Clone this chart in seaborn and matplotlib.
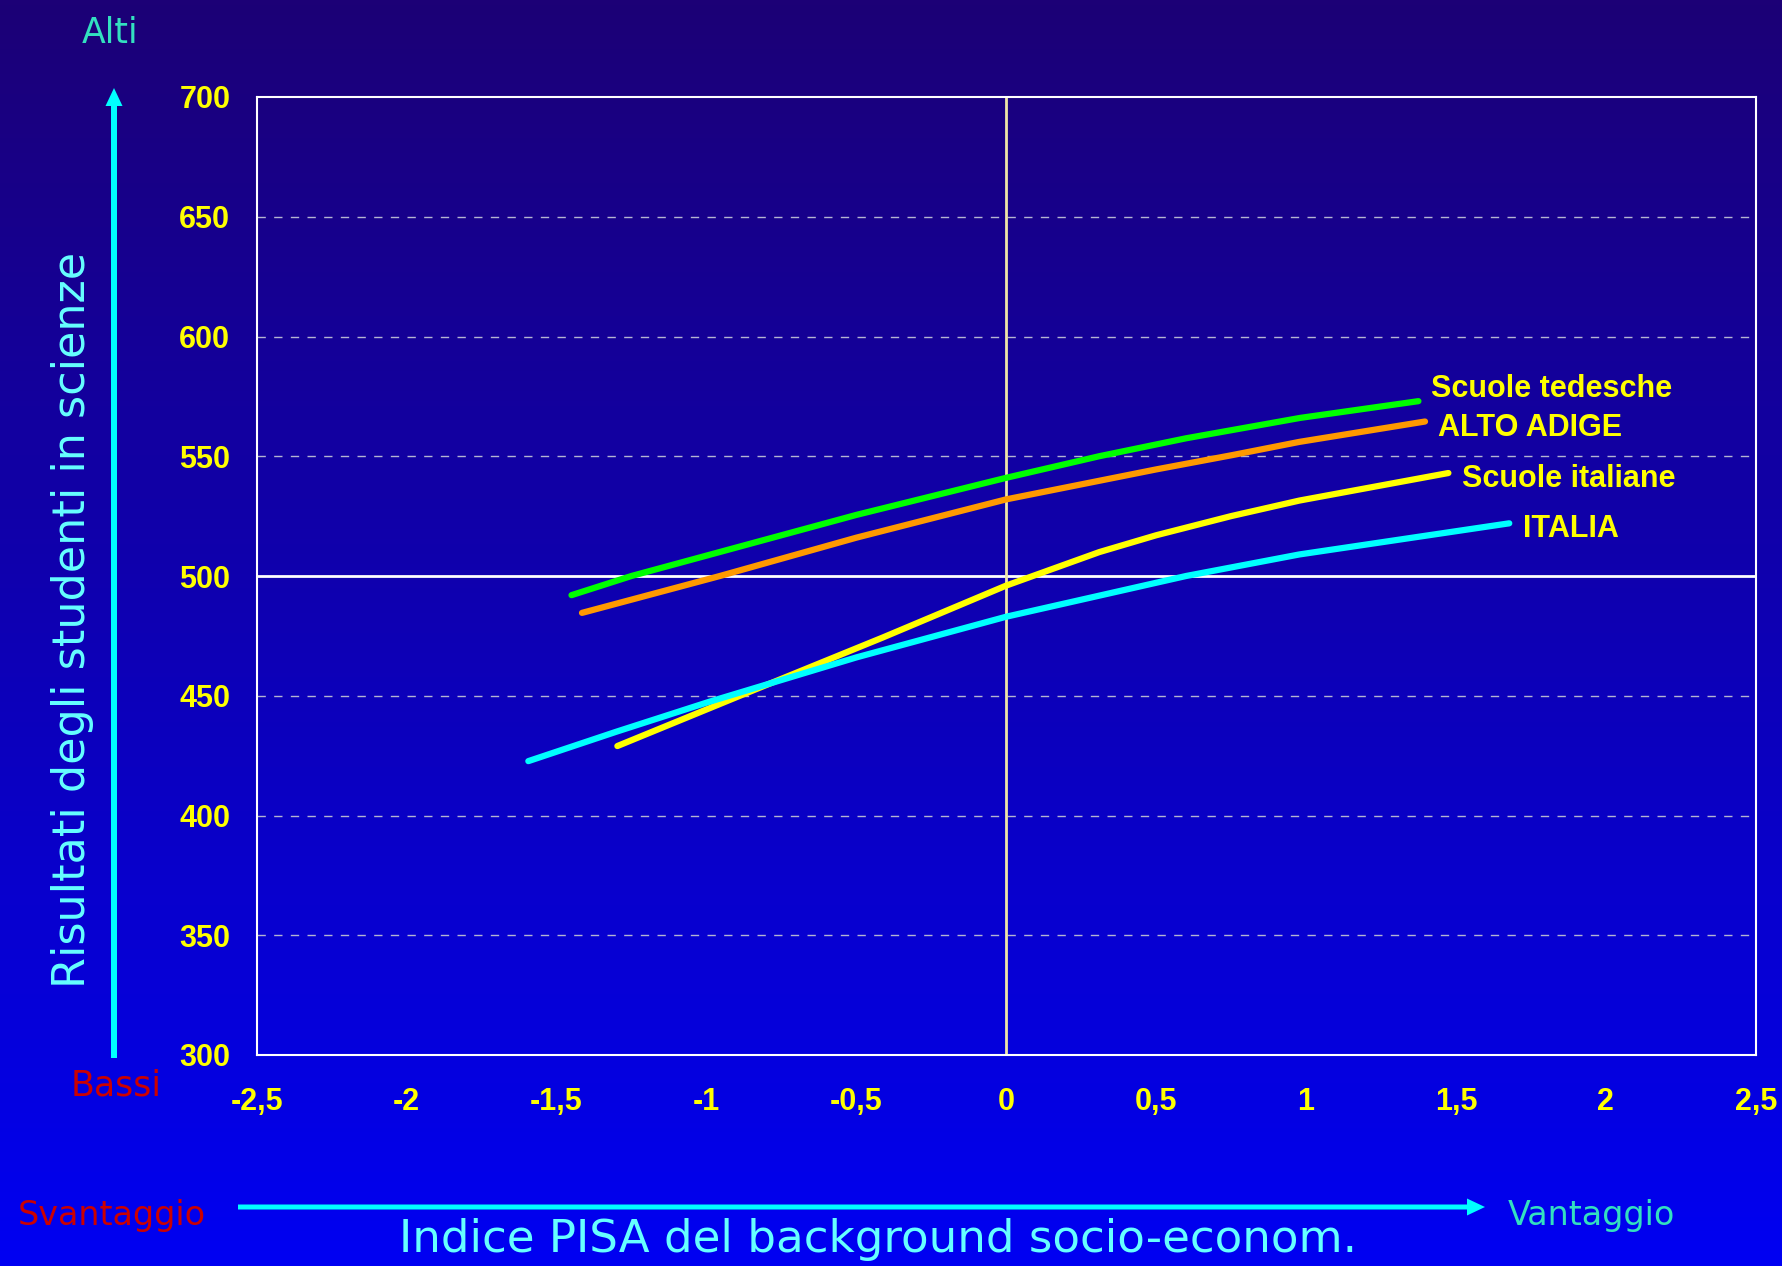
import numpy as np
import pandas as pd
import seaborn as sns
import matplotlib.pyplot as plt
from matplotlib.colors import LinearSegmentedColormap

# values (x = PISA index, y = science score)
tedesche_x = [-1.45, -1.25, -1.0, -0.5, 0.0, 0.31, 0.6, 0.98, 1.375]
tedesche_y = [492, 500, 508.5, 525.5, 541, 550, 557.5, 566, 573]

altoadige_x = [-1.415, -0.955, -0.5, 0.0, 0.5, 0.755, 0.978, 1.397]
altoadige_y = [484.6, 500, 516, 532, 544.5, 550.5, 556, 564.5]

italiane_x = [-1.297, -0.888, -0.412, 0.0, 0.311, 0.5, 0.75, 0.978, 1.475]
italiane_y = [429, 450, 474.3, 496, 510, 517, 525, 531.5, 543]

italia_x = [-1.594, -1.3, -0.99, -0.5, 0.0, 0.6, 0.978, 1.678]
italia_y = [422.7, 435, 447.5, 466, 483, 500, 509, 522]

series_names = ["Scuole tedesche", "ALTO ADIGE", "Scuole italiane", "ITALIA"]
series_colors = ["#00ff00", "#ff9900", "#ffff00", "#00ffff"]
# where each series label sits (left edge, vertical centre) in data units
label_x = [1.418, 1.441, 1.519, 1.723]
label_y = [578.2, 562.0, 540.5, 519.6]

x_ticks = [-2.5, -2, -1.5, -1, -0.5, 0, 0.5, 1, 1.5, 2, 2.5]
x_ticklabels = ["-2,5", "-2", "-1,5", "-1", "-0,5", "0", "0,5", "1", "1,5", "2", "2,5"]
y_ticks = [300, 350, 400, 450, 500, 550, 600, 650, 700]

# long form table for seaborn
frames = []
for name, xs, ys in zip(series_names,
                        [tedesche_x, altoadige_x, italiane_x, italia_x],
                        [tedesche_y, altoadige_y, italiane_y, italia_y]):
    frames.append(pd.DataFrame({"x": xs, "y": ys, "serie": name}))
df = pd.concat(frames, ignore_index=True)

sns.set_style("white")
plt.rcParams["font.family"] = ["DejaVu Sans"]

W, H = 1783, 1266
fig = plt.figure(figsize=(W / 100, H / 100), dpi=100)

# background gradient, drawn in figure pixel coordinates
bg = fig.add_axes([0, 0, 1, 1], zorder=0)
grad_cmap = LinearSegmentedColormap.from_list("bg", ["#1c0076", "#0000f2"])
bg.imshow(np.linspace(0, 1, 256).reshape(-1, 1), cmap=grad_cmap, aspect="auto",
          extent=[0, W, H, 0])
bg.set_xlim(0, W)
bg.set_ylim(H, 0)
bg.axis("off")

# main plot
ax = fig.add_axes([256.7 / W, (H - 1055) / H, 1499 / W, 958 / H], zorder=1)
ax.set_facecolor("none")

for yv in y_ticks:
    if yv in (300, 500, 700):
        continue
    ax.axhline(yv, color="#b4b4d2", lw=1, ls=(0, (6, 6)), zorder=1)
ax.axhline(500, color="white", lw=2, zorder=1)
ax.axvline(0, color="#efe6a8", lw=2, zorder=1)

sns.lineplot(data=df, x="x", y="y", hue="serie", palette=dict(zip(series_names, series_colors)),
             lw=4.5, legend=False, ax=ax, zorder=3)

for name, lx, ly in zip(series_names, label_x, label_y):
    ax.text(lx, ly, name, color="#ffff00", fontsize=22, fontweight="bold",
            family="Liberation Sans", ha="left", va="center", zorder=4)

ax.set_xlim(-2.5, 2.5)
ax.set_ylim(300, 700)
ax.set_xticks(x_ticks)
ax.set_xticklabels(x_ticklabels)
ax.set_yticks(y_ticks)
ax.set_xlabel("")
ax.set_ylabel("")
ax.tick_params(axis="both", length=0, labelsize=22, labelcolor="#ffff00")
ax.tick_params(axis="y", pad=19)
ax.tick_params(axis="x", pad=23)
for lab in ax.get_xticklabels() + ax.get_yticklabels():
    lab.set_fontweight("bold")
    lab.set_family("Liberation Sans")
for sp in ax.spines.values():
    sp.set_color("white")
    sp.set_linewidth(1.5)
    sp.set_visible(True)

# arrows and side texts on the background layer (pixel coords)
bg.arrow(114, 1058, 0, 88 - 1058, width=6, head_width=17, head_length=18,
         length_includes_head=True, color="#00ffff", lw=0)
bg.arrow(238, 1207, 1485 - 238, 0, width=5, head_width=17, head_length=18,
         length_includes_head=True, color="#00ffff", lw=0)

bg.text(110, 43, "Alti", color="#33e0c0", fontsize=25, ha="center", va="baseline")
bg.text(116, 1095, "Bassi", color="#cc0000", fontsize=25, ha="center", va="baseline")
bg.text(112, 1225, "Svantaggio", color="#cc0000", fontsize=24, ha="center", va="baseline")
bg.text(1591, 1225, "Vantaggio", color="#33e0c0", fontsize=24, ha="center", va="baseline")

bg.text(85, 620, "Risultati degli studenti in scienze", color="#66ffff", fontsize=32,
        rotation=90, rotation_mode="anchor", ha="center", va="baseline")
bg.text(878, 1252, "Indice PISA del background socio-econom.", color="#66ffff",
        fontsize=32.5, ha="center", va="baseline")

fig.savefig("out.png", dpi=100)
